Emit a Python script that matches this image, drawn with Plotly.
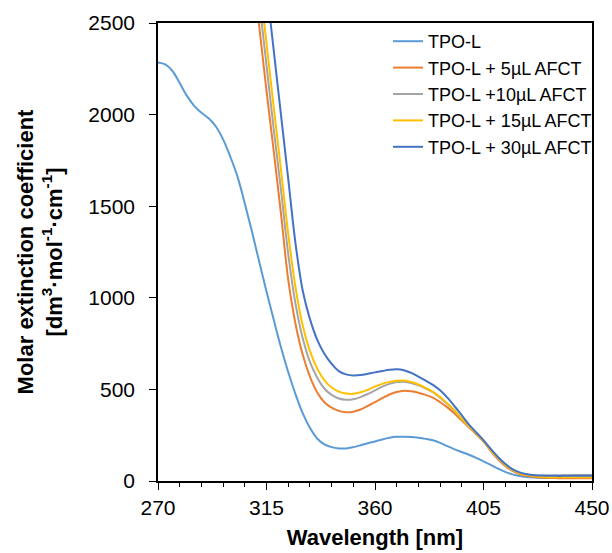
import plotly.graph_objects as go

# Wavelength grids (nm)
wl_tpo = [270, 273, 276, 279, 282, 285, 288, 291, 294, 297, 300, 303, 306, 309, 312, 315,
          318, 321, 324, 327, 330, 333, 336, 339, 342, 345, 348, 351, 354, 357, 360, 363,
          366, 369, 372, 375, 378, 381, 384, 387, 390, 393, 396, 399, 402, 405, 408, 411,
          414, 417, 420, 423, 426, 429, 432, 435, 438, 441, 444, 447, 450]
wl_afct = [309, 312, 315, 318, 321, 324, 327, 330, 333, 336, 339, 342, 345, 348, 351, 354,
           357, 360, 363, 366, 369, 372, 375, 378, 381, 384, 387, 390, 393, 396, 399, 402,
           405, 408, 411, 414, 417, 420, 423, 426, 429, 432, 435, 438, 441, 444, 447, 450]

# Molar extinction coefficient values
tpo_l = [2285, 2274, 2238, 2172, 2102, 2048, 2010, 1980, 1935, 1865, 1770, 1660, 1515, 1360, 1195, 1035,
         880, 730, 595, 475, 370, 290, 232, 200, 185, 178, 178, 185, 195, 206, 216, 227,
         236, 241, 242, 240, 236, 230, 222, 208, 190, 173, 158, 143, 126, 107, 88, 68,
         50, 36, 27, 22, 19, 17, 16, 16, 16, 16, 16, 16, 16]
afct_5 = [2850, 2480, 2130, 1800, 1460, 1100, 860, 690, 570, 485, 430, 400, 383, 375, 378, 390,
          410, 430, 452, 472, 486, 493, 490, 482, 470, 455, 430, 402, 368, 330, 292, 255,
          215, 165, 118, 82, 55, 38, 28, 22, 19, 17, 16, 15, 15, 15, 15, 15]
afct_10 = [2980, 2620, 2270, 1920, 1590, 1240, 970, 780, 650, 565, 505, 470, 450, 443, 446, 458,
           475, 495, 515, 530, 540, 542, 535, 522, 505, 485, 455, 420, 382, 338, 296, 258,
           218, 168, 124, 88, 60, 44, 36, 32, 30, 30, 31, 32, 32, 33, 33, 33]
afct_15 = [3080, 2740, 2390, 2040, 1700, 1350, 1060, 850, 710, 615, 550, 510, 488, 477, 476, 484,
           498, 515, 530, 541, 547, 548, 540, 527, 508, 487, 458, 423, 385, 340, 298, 260,
           220, 170, 126, 89, 61, 42, 32, 26, 23, 21, 20, 20, 20, 20, 20, 20]
afct_30 = [3400, 3050, 2700, 2350, 2000, 1650, 1300, 1040, 885, 772, 695, 640, 600, 582, 576, 578,
           585, 593, 600, 607, 610, 605, 590, 570, 548, 525, 495, 455, 408, 358, 308, 265,
           223, 175, 131, 94, 65, 47, 37, 32, 30, 29, 28, 28, 28, 28, 28, 28]

names = ["TPO-L", "TPO-L + 5µL AFCT", "TPO-L +10µL AFCT", "TPO-L + 15µL AFCT", "TPO-L + 30µL AFCT"]
colors = ["#5B9BD5", "#ED7D31", "#A5A5A5", "#FFC000", "#4472C4"]

x_ticks = [270, 315, 360, 405, 450]
y_ticks = [0, 500, 1000, 1500, 2000, 2500]

fig = go.Figure()
series = [(wl_tpo, tpo_l), (wl_afct, afct_5), (wl_afct, afct_10), (wl_afct, afct_15), (wl_afct, afct_30)]
for (xs, ys), name, col in zip(series, names, colors):
    fig.add_trace(go.Scatter(x=xs, y=ys, mode="lines", name=name,
                             line=dict(color=col, width=2, shape="spline", smoothing=1.0)))

FONT = "Liberation Sans, Arial, sans-serif"
fig.update_layout(
    width=612, height=553,
    margin=dict(l=158, r=20, t=23, b=72, autoexpand=False),
    paper_bgcolor="white", plot_bgcolor="white",
    font=dict(family=FONT, size=21, color="black"),
    showlegend=True,
    legend=dict(x=0.53, y=1.0, xanchor="left", yanchor="top",
                font=dict(family=FONT, size=18, color="black"),
                bgcolor="rgba(255,255,255,0)", borderwidth=0,
                tracegroupgap=0, itemwidth=30),
)
fig.update_xaxes(
    range=[270, 450], tickvals=x_ticks, ticktext=[str(v) for v in x_ticks],
    showgrid=False, zeroline=False, automargin=False,
    showline=True, linecolor="black", linewidth=1.5, mirror=True,
    ticks="outside", ticklen=7, tickwidth=1.2, tickcolor="black",
    minor=dict(dtick=9, tick0=270, ticks="outside", ticklen=4, tickwidth=1, tickcolor="black"),
    tickfont=dict(size=21),
    title=dict(text="<b>Wavelength [nm]</b>", font=dict(size=22), standoff=12),
)
fig.update_yaxes(
    range=[0, 2500], tickvals=y_ticks, ticktext=[str(v) for v in y_ticks],
    showgrid=False, zeroline=False, automargin=False,
    showline=True, linecolor="black", linewidth=1.5, mirror=True,
    ticks="outside", ticklen=7, tickwidth=1.2, tickcolor="black",
    tickfont=dict(size=21), ticklabelstandoff=10,
    title=dict(text="<b>Molar extinction coefficient<br>[dm<sup>3</sup>·mol<sup>-1</sup>·cm<sup>-1</sup>]</b>",
               font=dict(size=22), standoff=20),
)

fig.write_html("out.html")
